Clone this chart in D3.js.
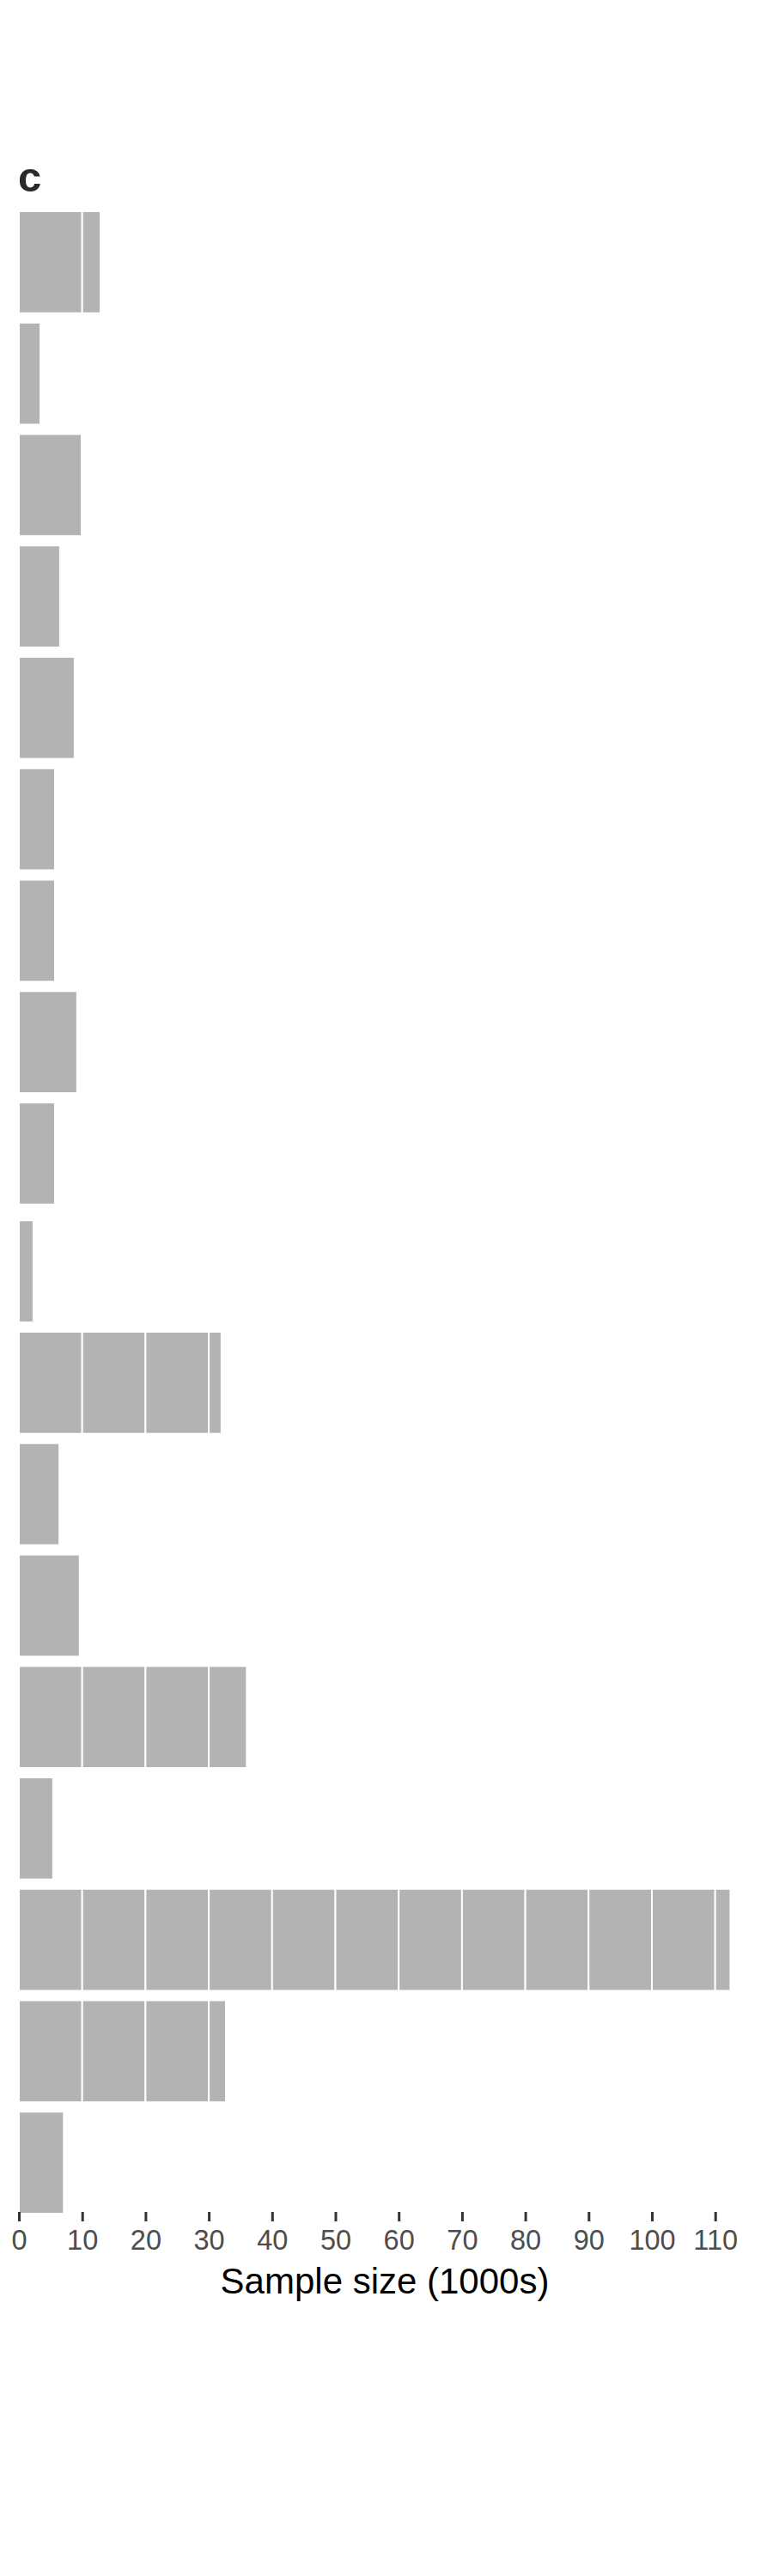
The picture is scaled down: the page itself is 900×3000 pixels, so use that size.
<!DOCTYPE html>
<html>
<head>
<meta charset="utf-8">
<script src="https://cdn.jsdelivr.net/npm/d3@7"></script>
<style>
  html, body { margin: 0; padding: 0; background: #ffffff; }
  svg { display: block; }
</style>
</head>
<body>
<svg id="chart" width="900" height="3000"></svg>
<script>
// ---- data (sample size, in 1000s) ----
const rowIds = ["1","2","3","4","5","6","7","8","9","10","11","12","13","14","15","16","17","18"];
const rowGroup = [0,0,0,0,0,0,0,0,0,1,1,1,1,1,1,1,1,1];
const sampleSize = [12.9, 3.4, 9.9, 6.5, 8.8, 5.7, 5.7, 9.2, 5.7, 2.3, 32.0, 6.4, 9.6, 36.0, 5.4, 112.4, 32.7, 7.1];
const xTicks = [0, 10, 20, 30, 40, 50, 60, 70, 80, 90, 100, 110];
const blockSize = 10;
const panelLabel = "c";
const xTitle = "Sample size (1000s)";

// ---- layout ----
const W = 900, H = 3000;
const panelLeft = 22, panelRight = 874;
const yTop = 240.5, yBottom = 2576;
const groupGap = 7.5;
const axisY = 2576;

const svg = d3.select("#chart");
svg.append("rect").attr("width", W).attr("height", H).attr("fill", "#ffffff");

const x = d3.scaleLinear().domain([0, 110]).range([22, 832.7]);
const y = d3.scaleBand().domain(rowIds).range([yTop, yBottom])
  .paddingInner(0.085).paddingOuter(0.0425);

const rows = rowIds.map((id, i) => ({ id, group: rowGroup[i], value: sampleSize[i] }));
const segs = [];
rows.forEach(r => {
  for (let k = 0; k * blockSize < r.value; k++) {
    segs.push({ id: r.id, group: r.group, x0: k * blockSize, x1: Math.min((k + 1) * blockSize, r.value) });
  }
});

svg.append("g").selectAll("rect").data(segs).join("rect")
  .attr("x", d => x(d.x0))
  .attr("width", d => x(d.x1) - x(d.x0))
  .attr("y", d => y(d.id) + d.group * groupGap)
  .attr("height", y.bandwidth())
  .attr("fill", "#b3b3b3")
  .attr("stroke", "#ffffff")
  .attr("stroke-width", 2);

// x axis
const axis = d3.axisBottom(x).tickValues(xTicks).tickSize(11).tickPadding(10).tickFormat(d3.format("d"));
const gx = svg.append("g").attr("transform", `translate(0,${axisY})`).call(axis);
gx.select(".domain").remove();
gx.selectAll(".tick line").attr("stroke", "#333333").attr("stroke-width", 3);
gx.selectAll(".tick text")
  .attr("fill", "#4d4d4d")
  .style("font-family", "'Liberation Sans', Arial, sans-serif")
  .style("font-size", "32.5px");

// axis title
svg.append("text")
  .attr("x", (panelLeft + panelRight) / 2)
  .attr("y", 2671)
  .attr("text-anchor", "middle")
  .attr("fill", "#000000")
  .style("font-family", "'Liberation Sans', Arial, sans-serif")
  .style("font-size", "42px")
  .text(xTitle);

// panel label
svg.append("text")
  .attr("x", 21)
  .attr("y", 223)
  .attr("fill", "#2a2a2a")
  .style("font-family", "'Liberation Sans', Arial, sans-serif")
  .style("font-weight", "bold")
  .style("font-size", "49px")
  .text(panelLabel);
</script>
</body>
</html>
